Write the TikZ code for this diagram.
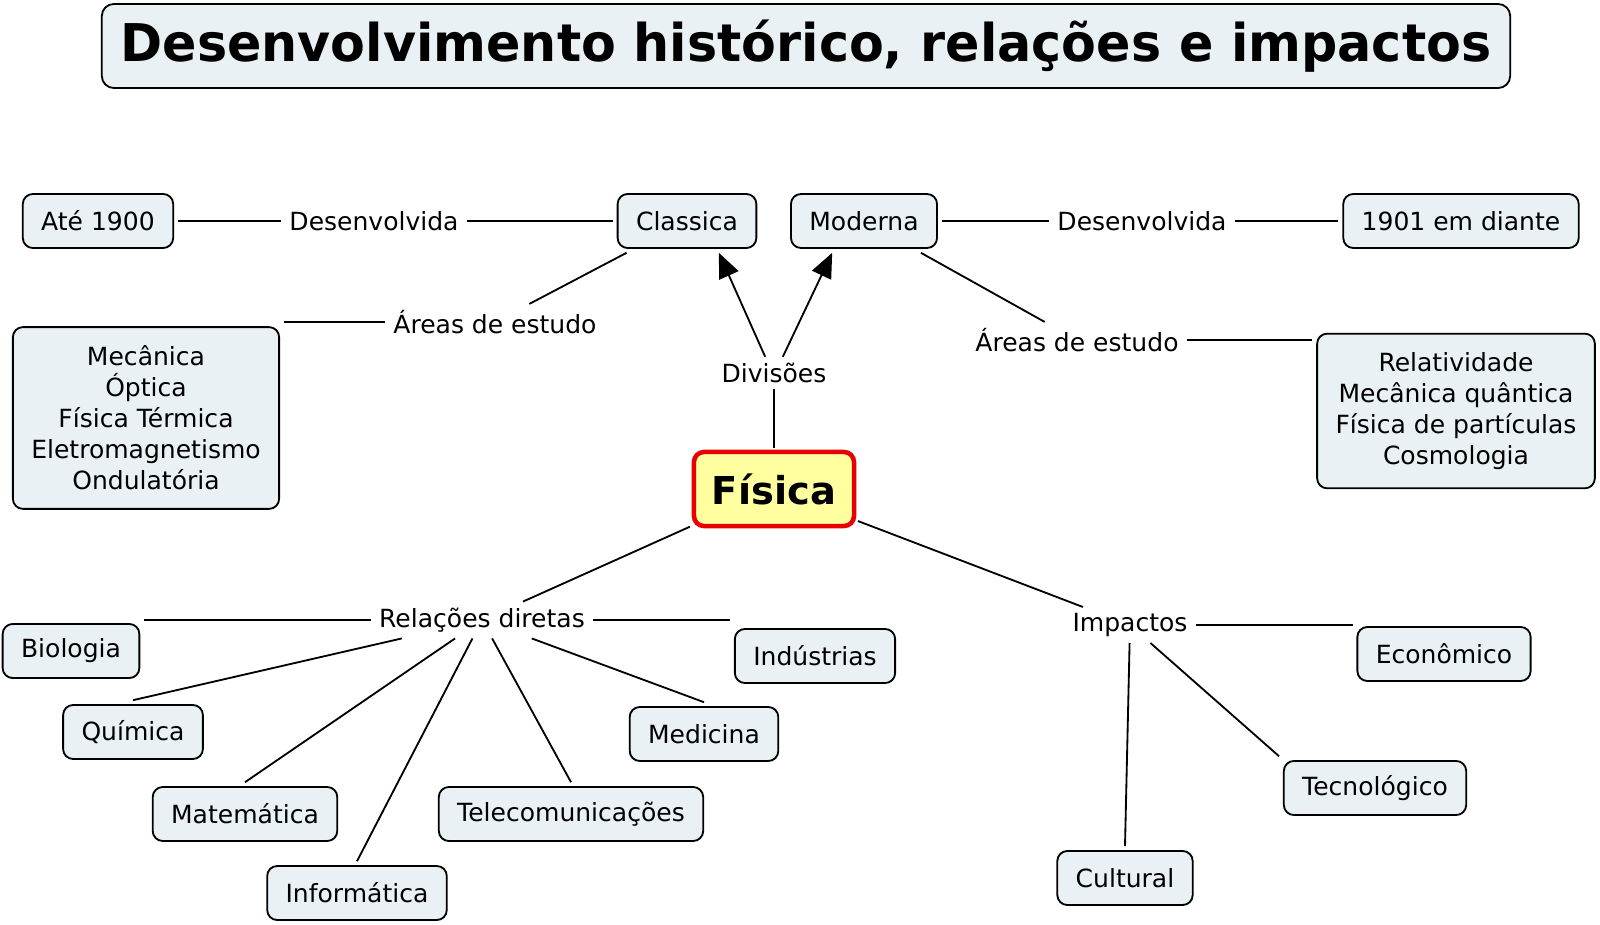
\documentclass[tikz,border=0pt]{standalone}
\usepackage{fontspec}
\usepackage{graphicx}
\setmainfont{DejaVu Sans}
\usetikzlibrary{arrows.meta}
\definecolor{boxfill}{RGB}{233,241,244}
\definecolor{corefill}{RGB}{255,255,160}
\definecolor{coreline}{RGB}{232,0,0}
\tikzset{
  concept/.style={draw=black, line width=1.3pt, fill=boxfill, rounded corners=0.25cm,
    minimum height=1.35cm, inner xsep=0.46cm, inner ysep=0.3cm, outer sep=0.12cm,
    align=center, font=\fontsize{17.8}{22}\selectfont},
  conceptlist/.style={concept, inner ysep=0.47cm},
  linkword/.style={inner xsep=0.2cm, inner ysep=0.15cm, font=\fontsize{17.8}{22}\selectfont},
  core/.style={draw=coreline, line width=3.2pt, fill=corefill, rounded corners=0.25cm,
    minimum width=4cm, minimum height=1.85cm, outer sep=0.1cm, font=\fontsize{27.3}{32}\selectfont\bfseries},
  headbox/.style={draw=black, line width=1.3pt, fill=boxfill, rounded corners=0.3cm,
    minimum width=35.2cm, minimum height=2.1cm, font=\fontsize{37}{44}\selectfont\bfseries},
  conn/.style={line width=1.3pt},
  arrowconn/.style={line width=1.3pt, -{Triangle[length=0.62cm,width=0.52cm]}}
}
\begin{document}
\begin{tikzpicture}[x=0.025cm, y=-0.025cm]
  \useasboundingbox (0,0) rectangle (1600,925);
  \node[headbox] (title) at (806,46) {\scalebox{0.975}[1]{Desenvolvimento histórico, relações e impactos}};

  \node[concept] (ate) at (98,221) {Até 1900};
  \node[linkword] (desL) at (374,221) {Desenvolvida};
  \node[concept] (classica) at (687,221) {Classica};
  \node[concept] (moderna) at (864,221) {Moderna};
  \node[linkword] (desR) at (1142,221) {Desenvolvida};
  \node[concept] (r1901) at (1461,221) {1901 em diante};
  \node[linkword] (areasL) at (495,322) {Áreas de estudo};
  \node[conceptlist] (listL) at (146,418) {Mecânica\\Óptica\\Física Térmica\\Eletromagnetismo\\Ondulatória};
  \node[linkword] (areasR) at (1077,340) {Áreas de estudo};
  \node[conceptlist] (listR) at (1456,411) {Relatividade\\Mecânica quântica\\Física de partículas\\Cosmologia};
  \node[linkword] (divisoes) at (774,373) {Divisões};
  \node[core] (fisica) at (774,489) {Física};
  \node[linkword] (relacoes) at (482,620) {Relações diretas};
  \node[linkword] (impactos) at (1130,625) {Impactos};
  \node[concept] (biologia) at (71,651) {Biologia};
  \node[concept] (quimica) at (133,732) {Química};
  \node[concept] (matematica) at (245,814) {Matemática};
  \node[concept] (informatica) at (357,893) {Informática};
  \node[concept] (telecom) at (571,814) {Telecomunicações};
  \node[concept] (medicina) at (704,734) {Medicina};
  \node[concept] (industrias) at (815,656) {Indústrias};
  \node[concept] (economico) at (1444,654) {Econômico};
  \node[concept] (tecnologico) at (1375,788) {Tecnológico};
  \node[concept] (cultural) at (1125,878) {Cultural};

  \draw[conn] (ate) -- (desL) -- (classica);
  \draw[conn] (moderna) -- (desR) -- (r1901);
  \draw[conn] (classica) -- (areasL);
  \draw[conn] (areasL.west) -- (listL.east |- areasL.west);
  \draw[conn] (moderna) -- (areasR);
  \draw[conn] (areasR.east) -- (listR.west |- areasR.east);
  \draw[conn] (fisica) -- (divisoes);
  \draw[arrowconn] ([xshift=-0.22cm]divisoes.north) -- (classica.-45);
  \draw[arrowconn] ([xshift=0.22cm]divisoes.north) -- (moderna.-135);
  \draw[conn] (fisica) -- (relacoes);
  \draw[conn] (fisica) -- (impactos);
  \draw[conn] (relacoes.west) -- (biologia.east |- relacoes.west);
  \draw[conn] (relacoes.east) -- (industrias.west |- relacoes.east);
  \draw[conn] (relacoes) -- (quimica.north);
  \draw[conn] (relacoes) -- (matematica.north);
  \draw[conn] (relacoes) -- (informatica.north);
  \draw[conn] (relacoes) -- (telecom.north);
  \draw[conn] (relacoes) -- (medicina.north);
  \draw[conn] (impactos.east) -- (economico.west |- impactos.east);
  \draw[conn] (impactos) -- (tecnologico.north west);
  \draw[conn] (impactos) -- (cultural.north);
\end{tikzpicture}
\end{document}
